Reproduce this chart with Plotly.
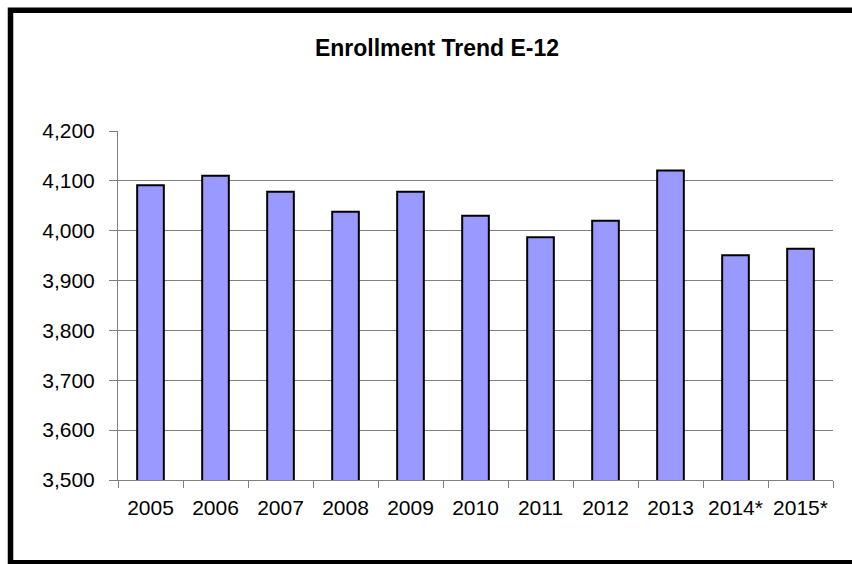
import plotly.graph_objects as go

years = ["2005", "2006", "2007", "2008", "2009", "2010", "2011", "2012", "2013", "2014*", "2015*"]
enrollment = [4091, 4110, 4078, 4038, 4078, 4030, 3987, 4020, 4121, 3951, 3964]
tick_vals = [3500, 3600, 3700, 3800, 3900, 4000, 4100, 4200]
tick_text = ["3,500", "3,600", "3,700", "3,800", "3,900", "4,000", "4,100", "4,200"]
grid_vals = [3600, 3700, 3800, 3900, 4000, 4100]
y_range = [3500, 4200]

FONT = "Liberation Sans, Arial, sans-serif"
W, H = 852, 564
ML, MR, MT, MB = 118, 19, 131, 84
pw, ph = W - ML - MR, H - MT - MB

fig = go.Figure()
fig.add_trace(go.Bar(
    x=years, y=enrollment,
    marker=dict(color="#9999FF", line=dict(color="#000000", width=2)),
    showlegend=False, hoverinfo="x+y",
))

def px_x(p):
    return (p - ML) / pw

def px_y(p):
    return (H - MB - p) / ph

fig.update_layout(
    width=W, height=H,
    margin=dict(l=ML, r=MR, t=MT, b=MB, pad=0),
    paper_bgcolor="white", plot_bgcolor="white",
    bargap=0.59,
    title=dict(text="<b>Enrollment Trend E-12</b>", x=437 / W, xanchor="center",
               y=1 - 48 / H, yanchor="middle",
               font=dict(family=FONT, size=23, color="black")),
    font=dict(family=FONT, size=21, color="black"),
    xaxis=dict(
        type="category", range=[-0.5, len(years) - 0.5], autorange=False,
        tickson="boundaries", ticks="outside", ticklen=7,
        tickcolor="#808080", tickwidth=1, showline=True, linecolor="#808080",
        linewidth=1, showgrid=False, tickfont=dict(size=21, color="black"),
        ticklabelstandoff=9,
    ),
    yaxis=dict(
        range=y_range, tickmode="array", tickvals=grid_vals, showgrid=True,
        gridcolor="#808080", gridwidth=1, showticklabels=False, ticks="",
        showline=True, linecolor="#808080", linewidth=1, zeroline=False,
    ),
    yaxis2=dict(
        overlaying="y", side="left", range=y_range, tickmode="array",
        tickvals=tick_vals, ticktext=tick_text, showgrid=False, ticks="outside",
        ticklen=8, tickcolor="#808080", tickwidth=1, showline=False,
        zeroline=False, tickfont=dict(size=21, color="black"),
        ticklabelstandoff=10,
    ),
    shapes=[dict(
        type="rect", xref="paper", yref="paper",
        x0=px_x(10.5), x1=px_x(875), y0=px_y(562.8), y1=px_y(10.3),
        line=dict(color="black", width=5.5), fillcolor="rgba(0,0,0,0)",
        layer="above",
    )],
)

# invisible trace to keep the tick-label axis alive
fig.add_trace(go.Scatter(x=[years[0]], y=[y_range[0]], yaxis="y2", mode="lines",
                         line=dict(width=0), showlegend=False, hoverinfo="skip"))

fig.write_html("out.html")
